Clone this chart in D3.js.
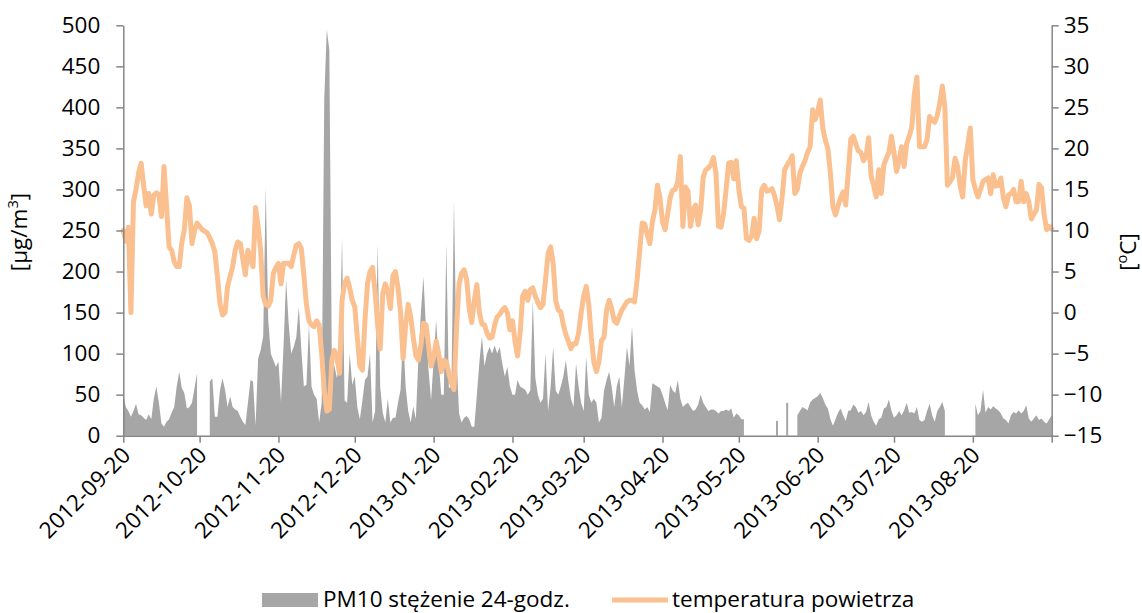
<!DOCTYPE html>
<html><head><meta charset="utf-8">
<script src="https://cdn.jsdelivr.net/npm/d3@7"></script>
<style>
body{margin:0;background:#fff}
svg text{font-family:'Open Sans',sans-serif;fill:#000}
</style>
</head><body>
<svg id="c" width="1142" height="613"></svg>
<script>
// ---------- data ----------
const startDate = "2012-09-20";
const pm10 = [
50,35,30,23,30,39,26,25,22,19,
26,20,45,60,40,15,11,17,20,28,
35,60,78,58,52,33,35,40,58,76,
null,null,null,null,66,70,23,23,55,70,
56,35,48,35,32,30,23,17,13,40,
68,66,12,94,104,121,303,140,100,92,
84,90,41,110,190,137,100,108,120,157,
105,60,62,136,60,50,45,16,40,410,
495,470,85,85,70,90,242,43,40,100,
62,72,35,20,43,68,72,100,16,30,
234,60,28,16,45,16,22,22,40,56,
125,60,30,16,36,20,92,150,194,130,
80,43,92,141,90,50,50,234,58,60,
287,100,27,16,22,24,20,11,11,50,
90,121,85,100,108,100,110,100,108,88,
72,84,60,50,50,68,60,58,56,50,
55,165,70,50,40,45,100,30,60,108,
55,50,60,72,92,65,45,35,88,60,
40,30,96,50,40,45,40,16,22,55,
68,78,60,35,60,72,35,70,108,85,
133,80,55,40,37,32,35,29,64,62,
60,58,50,40,31,62,55,52,68,45,
35,38,40,35,30,32,38,50,40,35,
30,32,32,30,27,30,30,32,30,33,
22,27,25,20,20,null,null,null,null,null,
null,null,null,null,null,null,null,18,null,null,
null,40,null,null,null,25,30,35,33,31,
40,44,46,48,52,46,38,33,20,12,
20,28,33,25,18,30,31,38,35,28,
30,25,29,41,25,17,12,20,22,33,
35,44,30,22,25,30,25,31,40,28,
29,27,35,19,17,19,30,39,25,17,
30,35,41,30,null,null,null,null,null,null,
null,null,null,null,null,39,25,30,56,28,
35,32,36,33,31,27,21,19,15,25,
29,27,31,27,30,37,21,17,21,25,
19,21,17,15,20,25
];
const temperature = [
10.0,8.7,10.4,0.0,13.5,15.0,17.0,18.2,15.5,13.0,
14.5,12.0,14.3,14.6,14.4,11.7,17.8,13.0,8.0,7.6,
6.2,5.6,5.6,8.5,10.1,14.0,13.0,8.4,10.0,10.9,
10.5,10.1,9.9,9.7,9.1,8.4,7.4,4.4,1.1,-0.3,
0.0,3.2,4.4,5.6,7.6,8.6,8.4,6.5,4.6,7.6,
6.5,5.6,12.8,10.5,7.5,2.0,1.0,0.8,1.5,4.8,
5.5,6.0,3.5,6.0,6.0,6.0,5.6,7.0,8.2,8.4,
7.8,4.5,1.0,-1.0,-1.5,-1.7,-1.0,-1.5,-5.0,-9.5,
-12.0,-11.8,-5.8,-4.6,-5.5,-7.4,1.5,3.5,4.2,3.0,
1.5,0.7,-3.0,-6.5,-7.0,-1.0,3.5,5.0,5.5,2.5,
-1.5,-4.4,2.3,3.5,2.5,0.5,4.5,5.0,3.0,0.0,
-5.6,-1.5,1.0,-0.5,-3.0,-5.2,-5.8,-4.0,-1.3,-1.5,
-4.0,-6.5,-5.5,-3.5,-5.0,-7.2,-5.8,-6.0,-7.4,-8.5,
-9.4,-2.0,3.5,4.8,5.2,4.0,0.5,-1.2,1.5,3.4,
0.0,-1.4,-1.5,-2.5,-3.1,-3.0,-1.5,-0.5,-0.2,0.3,
0.6,0.0,-2.1,-1.0,-3.5,-5.3,-2.5,2.0,2.6,1.5,
2.8,3.0,2.0,1.2,0.6,1.0,4.0,7.2,8.0,6.0,
1.5,0.3,0.1,-1.5,-2.7,-3.5,-4.4,-3.8,-3.8,-2.5,
0.0,2.0,3.2,1.0,-3.0,-6.0,-7.2,-6.0,-3.4,-3.0,
0.3,1.5,0.5,-1.0,-1.3,-0.5,0.3,0.8,1.3,1.5,
1.5,1.3,4.0,7.5,10.9,10.8,9.5,8.4,11.0,12.5,
15.5,14.0,11.0,10.1,12.0,14.0,14.9,15.0,16.0,19.0,
10.5,15.3,14.8,10.5,12.5,13.1,10.7,12.5,16.5,17.4,
17.6,18.0,18.9,17.0,10.5,10.4,12.1,15.0,18.2,18.3,
16.3,18.5,15.0,12.9,12.7,9.0,8.8,9.3,11.5,9.0,
10.0,15.0,15.5,14.8,14.9,15.1,14.3,13.0,11.3,14.0,
17.4,18.0,18.5,19.1,14.5,15.0,17.0,17.8,18.5,19.5,
20.2,24.7,23.5,24.5,25.9,22.5,21.0,20.0,17.0,12.9,
11.9,13.0,14.0,14.7,13.1,17.0,21.1,21.5,20.5,19.7,
19.5,18.5,19.0,21.3,16.6,15.5,14.1,17.4,14.5,18.0,
18.8,19.5,21.5,19.5,17.2,18.5,20.2,17.8,20.6,21.5,
22.6,26.6,28.7,20.2,20.2,20.2,21.1,23.9,23.5,23.2,
24.0,25.5,27.6,25.0,15.5,15.9,16.5,18.8,17.8,15.5,
14.1,18.5,20.5,22.5,16.2,15.0,14.1,15.0,16.0,16.2,
16.4,14.5,16.8,15.4,15.5,16.4,14.0,12.9,14.3,14.5,
15.0,13.5,13.5,16.0,13.5,14.5,13.5,11.4,12.0,12.5,
15.6,15.2,12.0,10.1,10.5,10.2
];
const leftTicks = [0,50,100,150,200,250,300,350,400,450,500];
const rightTicks = [-15,-10,-5,0,5,10,15,20,25,30,35];
const xTickLabels = ["2012-09-20","2012-10-20","2012-11-20","2012-12-20","2013-01-20","2013-02-20",
  "2013-03-20","2013-04-20","2013-05-20","2013-06-20","2013-07-20","2013-08-20"];
const xEnd = "2013-09-20";
const seriesNames = ["PM10 stężenie 24-godz.", "temperatura powietrza"];

// ---------- layout ----------
const L = 123.3, R = 1051.7, T = 25.3, B = 435.7;
const axisColor = "#868686", areaColor = "#A6A6A6", lineColor = "#FAC090";
const fs = 22.5;

const svg = d3.select("#c");
const parse = d3.utcParse("%Y-%m-%d");
const t0 = parse(startDate);
const rows = temperature.map((t, i) => ({date: d3.utcDay.offset(t0, i), pm: pm10[i], t}));

const x = d3.scaleUtc().domain([t0, parse(xEnd)]).range([L, R]);
const yL = d3.scaleLinear().domain([0, 500]).range([B, T]);
const yR = d3.scaleLinear().domain([-15, 35]).range([B, T]);

// area
const area = d3.area().defined(d => d.pm != null)
  .x(d => x(d.date)).y0(yL(0)).y1(d => yL(d.pm));
svg.append("path").datum(rows).attr("d", area).attr("fill", areaColor);
// isolated single-day values
const iso = rows.filter((d, i) => d.pm != null && (i === 0 || rows[i-1].pm == null) && (i === rows.length-1 || rows[i+1].pm == null));
svg.selectAll("rect.iso").data(iso).join("rect").attr("class","iso")
  .attr("x", d => x(d.date) - 1).attr("width", 2)
  .attr("y", d => yL(d.pm)).attr("height", d => yL(0) - yL(d.pm))
  .attr("fill", areaColor);

// line
const line = d3.line().x(d => x(d.date)).y(d => yR(d.t));
svg.append("path").datum(rows).attr("d", line).attr("fill", "none")
  .attr("stroke", lineColor).attr("stroke-width", 5)
  .attr("stroke-linejoin", "round").attr("stroke-linecap", "round");

// axes
function styleAxis(g) {
  g.select(".domain").attr("stroke", axisColor).attr("stroke-width", 1.5);
  g.selectAll(".tick line").attr("stroke", axisColor).attr("stroke-width", 1.5);
  g.selectAll("text").attr("font-size", fs).attr("fill", "#000").attr("font-family", "'Open Sans',sans-serif");
}
svg.append("g").attr("transform", `translate(${L},0)`)
  .call(d3.axisLeft(yL).tickValues(leftTicks).tickSize(7).tickSizeOuter(0).tickPadding(16))
  .call(styleAxis);
svg.append("g").attr("transform", `translate(${R},0)`)
  .call(d3.axisRight(yR).tickValues(rightTicks).tickSize(7).tickSizeOuter(0).tickPadding(5))
  .call(styleAxis);

const tickDates = xTickLabels.map(parse).concat([parse(xEnd)]);
const gx = svg.append("g").attr("transform", `translate(0,${B})`)
  .call(d3.axisBottom(x).tickValues(tickDates).tickSize(7).tickSizeOuter(0)
    .tickFormat((d, i) => i < xTickLabels.length ? xTickLabels[i] : ""))
  .call(styleAxis);
gx.selectAll(".tick text")
  .attr("x", 0).attr("y", 0).attr("dy", null)
  .attr("text-anchor", "end")
  .attr("transform", "translate(8,21) rotate(-45)");

// axis titles
const lt = svg.append("text").attr("transform", "translate(27,232) rotate(-90)")
  .attr("text-anchor", "middle").attr("font-size", fs);
lt.append("tspan").text("[µg/m");
lt.append("tspan").text("3").attr("font-size", fs*0.65).attr("dy", -9);
lt.append("tspan").text("]").attr("dy", 9);
const rt = svg.append("text").attr("transform", "translate(1136,252) rotate(-90)")
  .attr("text-anchor", "middle").attr("font-size", fs);
rt.append("tspan").text("[");
rt.append("tspan").text("o").attr("font-size", fs*0.65).attr("dy", -9);
rt.append("tspan").text("C]").attr("dy", 9);

// legend
const lg = svg.append("g");
lg.append("rect").attr("x", 262).attr("y", 593).attr("width", 56).attr("height", 14).attr("fill", areaColor);
lg.append("text").attr("x", 323).attr("y", 607).attr("font-size", fs).text(seriesNames[0]);
lg.append("line").attr("x1", 612).attr("x2", 668).attr("y1", 600).attr("y2", 600)
  .attr("stroke", lineColor).attr("stroke-width", 5);
lg.append("text").attr("x", 672).attr("y", 607).attr("font-size", fs).text(seriesNames[1]);
</script>
</body></html>
